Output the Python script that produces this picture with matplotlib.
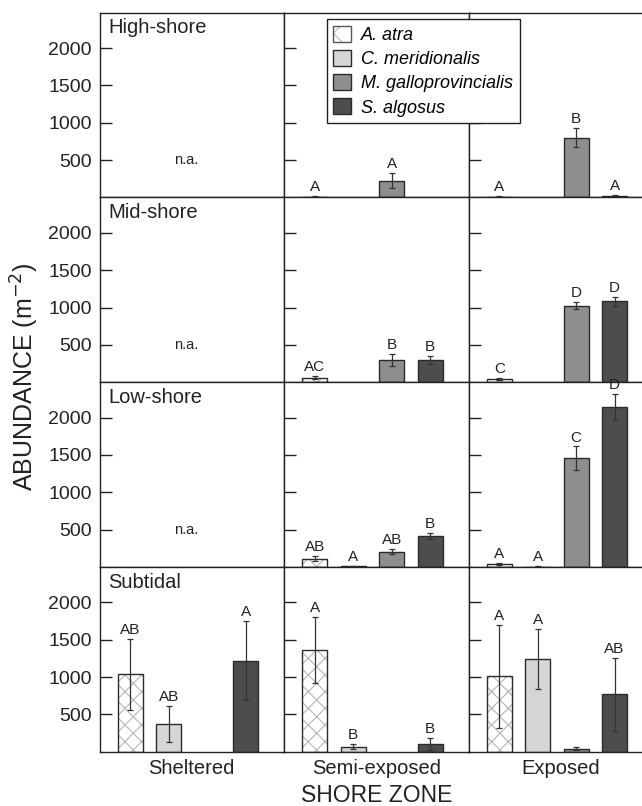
import numpy as np
import matplotlib
matplotlib.use("Agg")
import matplotlib.pyplot as plt
from matplotlib.patches import Patch
from matplotlib.legend_handler import HandlerTuple

plt.rcParams['font.family'] = ['Liberation Sans', 'DejaVu Sans']
plt.rcParams['hatch.linewidth'] = 0.8

# data
zones = ['Sheltered', 'Semi-exposed', 'Exposed']
levels = ['High-shore', 'Mid-shore', 'Low-shore', 'Subtidal']
species = ['A. atra', 'C. meridionalis', 'M. galloprovincialis', 'S. algosus']
nan = np.nan

# means[level][zone][species]
high_mean = [[nan, nan, nan, nan], [12, nan, 225, nan], [10, nan, 800, 20]]
high_err = [[nan, nan, nan, nan], [10, nan, 100, nan], [8, nan, 130, 12]]
high_lab = [['', '', '', ''], ['A', '', 'A', ''], ['A', '', 'B', 'A']]

mid_mean = [[nan, nan, nan, nan], [60, nan, 295, 300], [45, nan, 1025, 1085]]
mid_err = [[nan, nan, nan, nan], [20, nan, 80, 50], [15, nan, 50, 60]]
mid_lab = [['', '', '', ''], ['AC', '', 'B', 'B'], ['C', '', 'D', 'D']]

low_mean = [[nan, nan, nan, nan], [110, 10, 205, 420], [40, 5, 1455, 2139]]
low_err = [[nan, nan, nan, nan], [35, 5, 35, 40], [18, 3, 160, 175]]
low_lab = [['', '', '', ''], ['AB', 'A', 'AB', 'B'], ['A', 'A', 'C', 'D']]

sub_mean = [[1035, 370, nan, 1220], [1360, 68, nan, 100], [1010, 1245, 40, 770]]
sub_err = [[475, 240, nan, 530], [440, 33, nan, 80], [690, 400, 18, 490]]
sub_lab = [['AB', 'AB', '', 'A'], ['A', 'B', '', 'B'], ['A', 'A', '', 'AB']]

means = [high_mean, mid_mean, low_mean, sub_mean]
errs = [high_err, mid_err, low_err, sub_err]
labs = [high_lab, mid_lab, low_lab, sub_lab]
na_panels = [(0, 0), (1, 0), (2, 0)]

colors = ['white', '#d6d6d6', '#8e8e8e', '#4d4d4d']
edge = '#2a2a2a'
hatch_col = '#b5b5b5'
ink = '#222222'

fig = plt.figure(figsize=(6.42, 8.06), dpi=100)

left = 99.5 / 642
pw = 184.5 / 642
top = 1 - 12.7 / 806
ph = 184.75 / 806
x = np.arange(1, 5)
bw = 0.65

for r in range(4):
    for c in range(3):
        ax = fig.add_axes([left + c * pw, top - (r + 1) * ph, pw, ph])
        for k in range(4):
            m = means[r][c][k]
            if np.isnan(m):
                continue
            e = errs[r][c][k]
            if k == 0:
                # white bar, grey cross hatch, dark outline
                ax.bar(x[k], m, width=bw, color='white', edgecolor=hatch_col,
                       linewidth=0, hatch='xx', zorder=2)
                ax.bar(x[k], m, width=bw, color='none', edgecolor=edge,
                       linewidth=1.0, zorder=3)
            else:
                ax.bar(x[k], m, width=bw, color=colors[k], edgecolor=edge,
                       linewidth=1.0, zorder=2)
            ax.errorbar(x[k], m, yerr=e, fmt='none', ecolor='#333333',
                        elinewidth=0.9, capsize=2, capthick=0.9, zorder=4)
            if labs[r][c][k]:
                ax.annotate(labs[r][c][k], (x[k], m + e), xytext=(0, 3.5),
                            textcoords='offset points', ha='center',
                            va='baseline', fontsize=11, color=ink)
        if (r, c) in na_panels:
            ax.text(2.46, 500, 'n.a.', ha='center', va='center', fontsize=10.5,
                    color=ink)
        ax.set_xlim(0.2, 5.0)
        ax.set_ylim(0, 2475)
        ax.set_yticks([500, 1000, 1500, 2000])
        ax.set_xticks([])
        for s in ax.spines.values():
            s.set_linewidth(1.0)
            s.set_color(ink)
        ax.tick_params(axis='y', direction='in', length=8.5, width=1.0,
                       labelsize=14, pad=5.5, colors=ink,
                       labelleft=(c == 0))
        if c == 0:
            ax.text(0.046, 0.969, levels[r], transform=ax.transAxes,
                    ha='left', va='top', fontsize=14.5, color=ink)
        if r == 3:
            ax.set_xlabel(zones[c], fontsize=14.5, color=ink, labelpad=5)

fig.text(25 / 642, 1 - 377 / 806, 'ABUNDANCE (m$^{-2}$)', rotation=90,
         ha='center', va='center', fontsize=18, color=ink)
fig.text(left + 1.5 * pw, 1 - 795 / 806, 'SHORE ZONE', ha='center',
         va='center', fontsize=16.5, color=ink)

handles = [(Patch(facecolor='white', edgecolor=hatch_col, hatch='x', linewidth=0),
            Patch(facecolor='none', edgecolor='#555555', linewidth=1.0))]
for k in range(1, 4):
    handles.append(Patch(facecolor=colors[k], edgecolor=edge, linewidth=1.0))
leg = fig.legend(handles, species, loc='upper left',
                 bbox_to_anchor=(327 / 642, 1 - 19.3 / 806),
                 handler_map={tuple: HandlerTuple(ndivide=1, pad=0)},
                 prop={'style': 'italic', 'size': 13}, frameon=True,
                 fancybox=False, edgecolor=ink, framealpha=1,
                 handlelength=1.0, handleheight=1.0, handletextpad=0.55,
                 labelspacing=0.33, borderpad=0.35, borderaxespad=0)
leg.get_frame().set_linewidth(1.0)

fig.savefig('out.png', dpi=100)
